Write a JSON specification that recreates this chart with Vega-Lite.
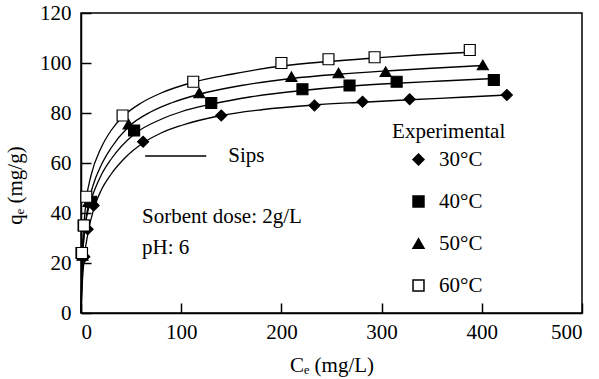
{
  "$schema": "https://vega.github.io/schema/vega-lite/v6.json",
  "width": 501,
  "height": 300,
  "autosize": {"type": "none"},
  "padding": {"left": 81, "top": 13, "right": 17, "bottom": 66},
  "background": "white",
  "config": {
    "font": "Liberation Serif",
    "view": {"stroke": "black", "strokeWidth": 1.5},
    "axis": {
      "grid": false,
      "domainColor": "black",
      "domainWidth": 1.5,
      "tickColor": "black",
      "tickWidth": 1.5,
      "tickSize": -10,
      "labelFont": "Liberation Serif",
      "labelFontSize": 21,
      "labelColor": "black",
      "titleFont": "Liberation Serif",
      "titleFontSize": 21,
      "titleFontWeight": "normal",
      "titleColor": "black"
    },
    "legend": {
      "labelFont": "Liberation Serif",
      "labelFontSize": 21,
      "labelColor": "black"
    }
  },
  "datasets": {
    "curves": [
      {"t": "30°C", "ce": 0, "qe": 0}, {"t": "30°C", "ce": 1, "qe": 10}, {"t": "30°C", "ce": 3, "qe": 21}, {"t": "30°C", "ce": 7, "qe": 32}, {"t": "30°C", "ce": 13, "qe": 42}, {"t": "30°C", "ce": 20, "qe": 49}, {"t": "30°C", "ce": 30, "qe": 55.5}, {"t": "30°C", "ce": 45, "qe": 62.5}, {"t": "30°C", "ce": 62, "qe": 68}, {"t": "30°C", "ce": 80, "qe": 72}, {"t": "30°C", "ce": 100, "qe": 75}, {"t": "30°C", "ce": 140, "qe": 79}, {"t": "30°C", "ce": 180, "qe": 81.3}, {"t": "30°C", "ce": 233, "qe": 83.2}, {"t": "30°C", "ce": 281, "qe": 84.3}, {"t": "30°C", "ce": 328, "qe": 85.3}, {"t": "30°C", "ce": 380, "qe": 86.3}, {"t": "30°C", "ce": 425, "qe": 87.2},
      {"t": "40°C", "ce": 0, "qe": 0}, {"t": "40°C", "ce": 1, "qe": 18}, {"t": "40°C", "ce": 2.6, "qe": 29}, {"t": "40°C", "ce": 5, "qe": 37}, {"t": "40°C", "ce": 10, "qe": 45}, {"t": "40°C", "ce": 20, "qe": 55}, {"t": "40°C", "ce": 30, "qe": 61.5}, {"t": "40°C", "ce": 53, "qe": 71.5}, {"t": "40°C", "ce": 80, "qe": 77.5}, {"t": "40°C", "ce": 100, "qe": 80.5}, {"t": "40°C", "ce": 130, "qe": 83.5}, {"t": "40°C", "ce": 170, "qe": 86.5}, {"t": "40°C", "ce": 221, "qe": 89}, {"t": "40°C", "ce": 268, "qe": 90.7}, {"t": "40°C", "ce": 315, "qe": 91.9}, {"t": "40°C", "ce": 360, "qe": 92.8}, {"t": "40°C", "ce": 412, "qe": 93.8},
      {"t": "50°C", "ce": 0, "qe": 0}, {"t": "50°C", "ce": 1.5, "qe": 21}, {"t": "50°C", "ce": 4, "qe": 34}, {"t": "50°C", "ce": 7.5, "qe": 44}, {"t": "50°C", "ce": 12, "qe": 51}, {"t": "50°C", "ce": 20, "qe": 59}, {"t": "50°C", "ce": 30, "qe": 66}, {"t": "50°C", "ce": 47.5, "qe": 74.5}, {"t": "50°C", "ce": 70, "qe": 80.5}, {"t": "50°C", "ce": 90, "qe": 84}, {"t": "50°C", "ce": 118, "qe": 87.5}, {"t": "50°C", "ce": 160, "qe": 91}, {"t": "50°C", "ce": 210, "qe": 93.8}, {"t": "50°C", "ce": 257, "qe": 95.5}, {"t": "50°C", "ce": 304, "qe": 96.8}, {"t": "50°C", "ce": 350, "qe": 97.9}, {"t": "50°C", "ce": 401, "qe": 99},
      {"t": "60°C", "ce": 0, "qe": 0}, {"t": "60°C", "ce": 1, "qe": 22}, {"t": "60°C", "ce": 3, "qe": 36}, {"t": "60°C", "ce": 5.5, "qe": 46}, {"t": "60°C", "ce": 10, "qe": 55}, {"t": "60°C", "ce": 20, "qe": 66}, {"t": "60°C", "ce": 30, "qe": 73}, {"t": "60°C", "ce": 41.5, "qe": 78.5}, {"t": "60°C", "ce": 60, "qe": 84}, {"t": "60°C", "ce": 80, "qe": 88}, {"t": "60°C", "ce": 112, "qe": 92.3}, {"t": "60°C", "ce": 150, "qe": 95.5}, {"t": "60°C", "ce": 200, "qe": 98.8}, {"t": "60°C", "ce": 247, "qe": 100.6}, {"t": "60°C", "ce": 293, "qe": 102}, {"t": "60°C", "ce": 340, "qe": 103.3}, {"t": "60°C", "ce": 388, "qe": 104.3}
    ],
    "points": [
      {"t": "30°C", "ce": 3.3, "qe": 22.5}, {"t": "30°C", "ce": 6.6, "qe": 33.5}, {"t": "30°C", "ce": 12.6, "qe": 43}, {"t": "30°C", "ce": 62, "qe": 68.5}, {"t": "30°C", "ce": 140, "qe": 79}, {"t": "30°C", "ce": 233, "qe": 83}, {"t": "30°C", "ce": 281, "qe": 84.5}, {"t": "30°C", "ce": 328, "qe": 85.5}, {"t": "30°C", "ce": 425, "qe": 87.2},
      {"t": "40°C", "ce": 0.5, "qe": 24}, {"t": "40°C", "ce": 2.6, "qe": 35}, {"t": "40°C", "ce": 10, "qe": 44.5}, {"t": "40°C", "ce": 53, "qe": 73}, {"t": "40°C", "ce": 130, "qe": 84}, {"t": "40°C", "ce": 221, "qe": 89.5}, {"t": "40°C", "ce": 268, "qe": 91}, {"t": "40°C", "ce": 315, "qe": 92.5}, {"t": "40°C", "ce": 412, "qe": 93.2},
      {"t": "50°C", "ce": 1.5, "qe": 23}, {"t": "50°C", "ce": 4, "qe": 35}, {"t": "50°C", "ce": 7.5, "qe": 44.5}, {"t": "50°C", "ce": 47.5, "qe": 75.5}, {"t": "50°C", "ce": 118, "qe": 88}, {"t": "50°C", "ce": 210, "qe": 94.5}, {"t": "50°C", "ce": 257, "qe": 96}, {"t": "50°C", "ce": 304, "qe": 96.5}, {"t": "50°C", "ce": 401, "qe": 99.2},
      {"t": "60°C", "ce": 1, "qe": 24}, {"t": "60°C", "ce": 3, "qe": 35}, {"t": "60°C", "ce": 5.3, "qe": 46.5}, {"t": "60°C", "ce": 41.5, "qe": 79}, {"t": "60°C", "ce": 112, "qe": 92.5}, {"t": "60°C", "ce": 200, "qe": 100}, {"t": "60°C", "ce": 247, "qe": 101.5}, {"t": "60°C", "ce": 293, "qe": 102.3}, {"t": "60°C", "ce": 388, "qe": 105.2}
    ],
    "notes": [
      {"label": "Sips", "x": 147, "y": 62.8},
      {"label": "Sorbent dose: 2g/L", "x": 61, "y": 38.4},
      {"label": "pH: 6", "x": 61, "y": 26},
      {"label": "Experimental", "x": 310.5, "y": 72.4}
    ],
    "key": [
      {"x": 64, "x2": 125, "y": 62.8}
    ]
  },
  "layer": [
    {
      "data": {"name": "curves"},
      "mark": {"type": "line", "interpolate": "monotone", "color": "black", "strokeWidth": 1.3},
      "encoding": {
        "x": {"field": "ce", "type": "quantitative", "scale": {"domain": [0, 500], "nice": false},
          "axis": {"values": [0, 100, 200, 300, 400, 500], "title": "Cₑ (mg/L)", "labelPadding": 18, "titlePadding": 12}},
        "y": {"field": "qe", "type": "quantitative", "scale": {"domain": [0, 120], "nice": false},
          "axis": {"values": [0, 20, 40, 60, 80, 100, 120], "title": "qₑ (mg/g)", "labelPadding": 20, "titlePadding": 14, "titleY": 172}},
        "detail": {"field": "t"}
      }
    },
    {
      "data": {"name": "points"},
      "mark": {"type": "point", "filled": true, "size": 120, "stroke": "black", "strokeWidth": 1.2, "opacity": 1},
      "encoding": {
        "x": {"field": "ce", "type": "quantitative"},
        "y": {"field": "qe", "type": "quantitative"},
        "shape": {"field": "t", "type": "nominal",
          "scale": {"domain": ["30°C", "40°C", "50°C", "60°C"], "range": ["diamond", "square", "triangle-up", "square"]},
          "legend": {"title": null, "orient": "none", "legendX": 327, "legendY": 136, "rowPadding": 20, "labelOffset": 10, "symbolSize": 120, "symbolOpacity": 1,
            "encode": {"symbols": {"update": {"stroke": {"value": "black"}, "strokeWidth": {"value": 1.2}}}}}},
        "fill": {"field": "t", "type": "nominal",
          "scale": {"domain": ["30°C", "40°C", "50°C", "60°C"], "range": ["black", "black", "black", "white"]}}
      }
    },
    {
      "data": {"name": "key"},
      "mark": {"type": "rule", "color": "black", "strokeWidth": 1.3},
      "encoding": {
        "x": {"field": "x", "type": "quantitative"},
        "x2": {"field": "x2"},
        "y": {"field": "y", "type": "quantitative"}
      }
    },
    {
      "data": {"name": "notes"},
      "mark": {"type": "text", "align": "left", "baseline": "middle", "fontSize": 21, "font": "Liberation Serif", "color": "black"},
      "encoding": {
        "x": {"field": "x", "type": "quantitative"},
        "y": {"field": "y", "type": "quantitative"},
        "text": {"field": "label"}
      }
    }
  ]
}
